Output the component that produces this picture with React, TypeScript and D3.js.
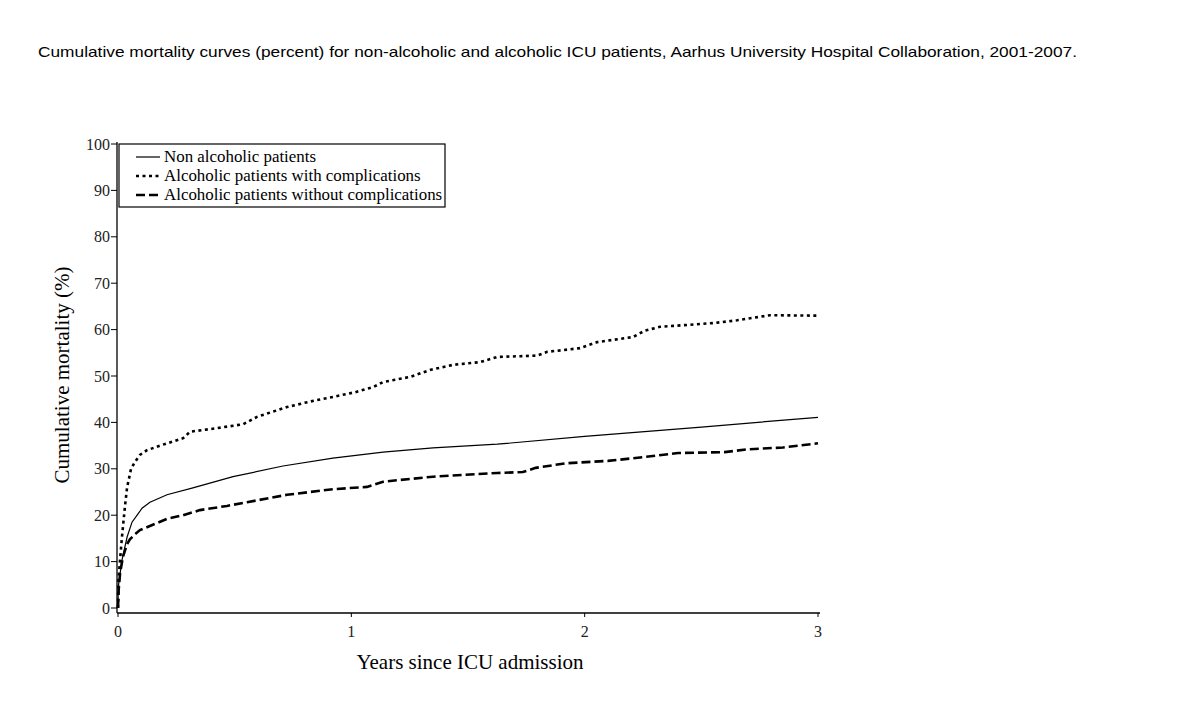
import React from 'react';
import * as d3 from 'd3';

const title =
  'Cumulative mortality curves (percent) for non-alcoholic and alcoholic ICU patients, Aarhus University Hospital Collaboration, 2001-2007.';

const xTicks = [0, 1, 2, 3];
const yTicks = [0, 10, 20, 30, 40, 50, 60, 70, 80, 90, 100];

const legendLabels = [
  'Non alcoholic patients',
  'Alcoholic patients with complications',
  'Alcoholic patients without complications',
];

// years since admission / cumulative mortality (%)
const nonAlcYears = [0, 0.001, 0.017, 0.039, 0.06, 0.082, 0.103, 0.137, 0.21, 0.321, 0.493, 0.707, 0.921, 1.136, 1.35, 1.625, 2.0, 2.5, 3.0];
const nonAlcMortality = [0, 4.5, 10.3, 15.3, 18.5, 20, 21.5, 22.8, 24.4, 25.9, 28.3, 30.6, 32.3, 33.6, 34.5, 35.3, 37, 39, 41.1];

const withCompYears = [0, 0.002, 0.009, 0.017, 0.03, 0.039, 0.056, 0.073, 0.094, 0.124, 0.18, 0.279, 0.309, 0.416, 0.536, 0.596, 0.724, 0.823, 0.922, 1.016, 1.093, 1.136, 1.252, 1.337, 1.436, 1.552, 1.625, 1.796, 1.839, 1.98, 2.053, 2.207, 2.259, 2.323, 2.55, 2.653, 2.795, 3.0];
const withCompMortality = [0, 6, 10.5, 15.3, 22, 26, 30, 31.5, 33, 34, 35, 36.6, 38, 38.7, 39.6, 41.2, 43.3, 44.5, 45.5, 46.5, 47.6, 48.7, 49.8, 51.3, 52.4, 53, 54.1, 54.4, 55.2, 56, 57.3, 58.4, 59.8, 60.6, 61.4, 62, 63.1, 63];

const withoutCompYears = [0, 0.003, 0.009, 0.021, 0.039, 0.051, 0.073, 0.094, 0.129, 0.21, 0.279, 0.351, 0.467, 0.553, 0.724, 0.921, 1.067, 1.136, 1.209, 1.35, 1.625, 1.735, 1.79, 1.92, 2.1, 2.25, 2.4, 2.6, 2.7, 2.85, 3.0];
const withoutCompMortality = [0, 4, 7.5, 11, 13.8, 14.8, 15.9, 16.8, 17.5, 19.2, 20, 21.1, 22, 22.8, 24.4, 25.6, 26.1, 27.2, 27.6, 28.3, 29.1, 29.3, 30.2, 31.2, 31.7, 32.5, 33.4, 33.6, 34.2, 34.6, 35.5];

const serif = '"Liberation Serif", "DejaVu Serif", serif';

export default function App() {
  const x = d3.scaleLinear().domain([0, 3]).range([118, 818]);
  const y = d3.scaleLinear().domain([0, 100]).range([608, 144]);

  const lineGen = d3
    .line<[number, number]>()
    .x((d) => x(d[0]))
    .y((d) => y(d[1]));

  const series = [
    { years: nonAlcYears, vals: nonAlcMortality, width: 1.2, dash: 'none' },
    { years: withCompYears, vals: withCompMortality, width: 2.6, dash: '3 3.5' },
    { years: withoutCompYears, vals: withoutCompMortality, width: 2.6, dash: '9 4' },
  ];

  const axisLeftX = 117;
  const axisBottomY = 613;

  return (
    <svg
      width={1200}
      height={728}
      style={{ position: 'absolute', left: 0, top: 0, display: 'block', background: '#fff' }}
    >
      <text
        x={38}
        y={57}
        fontFamily='"Liberation Sans", Arial, sans-serif'
        fontSize={15}
        textLength={1039}
        lengthAdjust="spacingAndGlyphs"
        fill="#000"
      >
        {title}
      </text>

      {/* y axis */}
      <line x1={axisLeftX} x2={axisLeftX} y1={142} y2={axisBottomY} stroke="#000" strokeWidth={1.3} />
      {yTicks.map((t) => (
        <g key={t}>
          <line x1={axisLeftX - 6} x2={axisLeftX} y1={y(t)} y2={y(t)} stroke="#000" strokeWidth={1} />
          <text
            x={axisLeftX - 7}
            y={y(t) + 5.5}
            textAnchor="end"
            fontFamily={serif}
            fontSize={16}
            fill="#222"
          >
            {t}
          </text>
        </g>
      ))}

      {/* x axis */}
      <line x1={axisLeftX} x2={820} y1={axisBottomY} y2={axisBottomY} stroke="#000" strokeWidth={1.3} />
      {xTicks.map((t) => (
        <g key={t}>
          <line x1={x(t)} x2={x(t)} y1={axisBottomY} y2={axisBottomY + 4} stroke="#000" strokeWidth={1} />
          <text x={x(t)} y={637} textAnchor="middle" fontFamily={serif} fontSize={16} fill="#222">
            {t}
          </text>
        </g>
      ))}

      <text x={470} y={669} textAnchor="middle" fontFamily={serif} fontSize={21} fill="#000">
        Years since ICU admission
      </text>
      <text
        transform="translate(69,375) rotate(-90)"
        textAnchor="middle"
        fontFamily={serif}
        fontSize={21}
        fill="#000"
      >
        Cumulative mortality (%)
      </text>

      {/* curves */}
      {series.map((s, i) => (
        <path
          key={i}
          d={lineGen(s.years.map((yr, j) => [yr, s.vals[j]] as [number, number])) || ''}
          fill="none"
          stroke="#000"
          strokeWidth={s.width}
          strokeDasharray={s.dash}
        />
      ))}

      {/* legend */}
      <rect x={119} y={144} width={326} height={63} fill="#fff" stroke="#000" strokeWidth={1.2} />
      {legendLabels.map((lab, i) => {
        const ly = 157 + i * 19;
        const s = series[i];
        return (
          <g key={lab}>
            <line
              x1={136}
              x2={160}
              y1={ly}
              y2={ly}
              stroke="#000"
              strokeWidth={s.width}
              strokeDasharray={s.dash}
            />
            <text x={164} y={ly + 5} fontFamily={serif} fontSize={16.9} fill="#000">
              {lab}
            </text>
          </g>
        );
      })}
    </svg>
  );
}
